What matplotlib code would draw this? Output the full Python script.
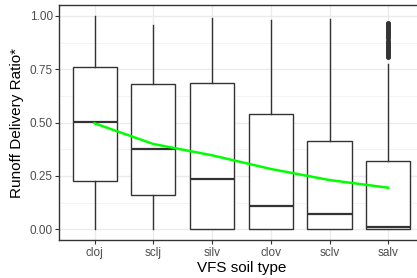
import matplotlib
matplotlib.use("Agg")
import matplotlib.pyplot as plt
from matplotlib.ticker import MultipleLocator

plt.rcParams['font.family'] = ['Liberation Sans', 'DejaVu Sans']

categories = ["cloj", "sclj", "silv", "clov", "sclv", "salv"]
whislo = [0.0, 0.0, 0.0, 0.0, 0.0, 0.0]
q1 = [0.225, 0.162, 0.0, 0.0, 0.0, 0.0]
med = [0.504, 0.375, 0.236, 0.111, 0.070, 0.012]
q3 = [0.760, 0.683, 0.684, 0.539, 0.415, 0.322]
whishi = [1.00, 0.958, 0.99, 0.983, 0.986, 0.774]
salv_outliers = [0.806, 0.815, 0.825, 0.835, 0.845, 0.855, 0.865, 0.875, 0.885,
                 0.895, 0.905, 0.915, 0.925, 0.935, 0.945, 0.955, 0.962, 0.968]
trend = [0.497, 0.400, 0.347, 0.283, 0.231, 0.195]

fig = plt.figure(figsize=(4.17, 2.78), dpi=100)
W, H = 417, 278
left_px, right_px, top_px, bot_px = 59.3, 423.5, 5.3, 240.0
ax = fig.add_axes([left_px / W, 1 - bot_px / H, (right_px - left_px) / W, (bot_px - top_px) / H])

stats = []
for i, c in enumerate(categories):
    stats.append(dict(label=c, whislo=whislo[i], q1=q1[i], med=med[i], q3=q3[i],
                      whishi=whishi[i], fliers=salv_outliers if c == "salv" else []))

pos = list(range(1, len(categories) + 1))
edge = "#333333"
ax.bxp(stats, positions=pos, widths=0.75, showcaps=False, patch_artist=True,
       boxprops=dict(facecolor="white", edgecolor=edge, linewidth=1.0),
       whiskerprops=dict(color=edge, linewidth=1.0),
       medianprops=dict(color=edge, linewidth=1.6, solid_capstyle="butt"),
       flierprops=dict(marker="o", markerfacecolor=edge, markeredgecolor=edge,
                       markersize=2.6, linestyle="none"),
       zorder=2)

ax.plot(pos, trend, color="#00FF00", linewidth=1.8, zorder=3)

ax.set_xlim(0.4, 6.6)
ax.set_ylim(-0.05, 1.05)
ax.yaxis.set_minor_locator(MultipleLocator(0.125))
ax.set_yticks([0, 0.25, 0.5, 0.75, 1.0])
ax.set_yticklabels(["0.00", "0.25", "0.50", "0.75", "1.00"])
ax.set_xticks(pos)
ax.set_xticklabels(categories)

ax.grid(which="major", color="#EBEBEB", linewidth=1.0, zorder=0)
ax.grid(which="minor", axis="y", color="#F2F2F2", linewidth=0.6, zorder=0)
ax.set_axisbelow(True)
for s in ax.spines.values():
    s.set_color(edge)
    s.set_linewidth(1.0)
ax.tick_params(axis="both", which="major", colors=edge, length=2.75, width=0.8,
               labelcolor="#4D4D4D", labelsize=8.5, pad=2)
ax.tick_params(axis="both", which="minor", length=0)

ax.set_xlabel("VFS soil type", fontsize=11, color="black", labelpad=2)
ax.set_ylabel("Runoff Delivery Ratio*", fontsize=11, color="black", labelpad=4)

fig.savefig("out.png", dpi=100)
